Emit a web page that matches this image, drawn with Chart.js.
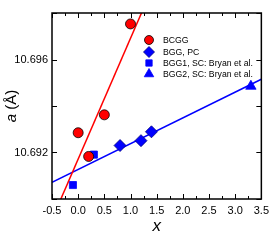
<!DOCTYPE html>
<html>
<head>
<meta charset="utf-8">
<script src="https://cdn.jsdelivr.net/npm/chart.js@4/dist/chart.umd.min.js"></script>
<style>
  html, body { margin: 0; padding: 0; background: #fff; }
  #wrap { width: 274px; height: 241px; position: relative; }
</style>
</head>
<body>
<div id="wrap"><canvas id="LatticeChart"></canvas></div>
<script>
// measured points
const bcggX = [0.0, 0.2, 0.5, 1.0];
const bcggY = [10.69285, 10.69183, 10.69362, 10.69753];
const bggPcX = [0.8, 1.2, 1.4];
const bggPcY = [10.6923, 10.69251, 10.69289];
const bgg1X = [-0.1, 0.3];
const bgg1Y = [10.6906, 10.69191];
const bgg2X = [3.3];
const bgg2Y = [10.69485];

// fit lines (end points)
const redFitX = [-0.5, 1.5];
const redFitY = [10.68912, 10.69951];
const blueFitX = [-0.5, 3.5];
const blueFitY = [10.69072, 10.69515];

const legendLabels = ["BCGG", "BGG, PC", "BGG1, SC: Bryan et al.", "BGG2, SC: Bryan et al."];

function toPoints(xs, ys) {
    let pts = [];
    for (let i = 0; i < xs.length; i++) {
        pts.push({ x: xs[i], y: ys[i] });
    }
    return pts;
}

const FONT = "'Liberation Sans', Arial, sans-serif";

// inward ticks on all four sides + frame
const frameTicks = {
    id: 'frameTicks',
    afterDraw(chart) {
        const ctx = chart.ctx;
        const a = chart.chartArea;
        const xs = chart.scales.x;
        const ys = chart.scales.y;
        ctx.save();
        ctx.strokeStyle = '#000';
        ctx.lineWidth = 1.5;
        ctx.strokeRect(a.left, a.top, a.right - a.left, a.bottom - a.top);
        ctx.lineWidth = 1;
        ctx.beginPath();
        xs.ticks.forEach(t => {
            let px = Math.round(xs.getPixelForValue(t.value)) + 0.5;
            let major = Math.abs(Math.round(t.value * 100) % 50) == 0;
            let len = major ? 5 : 3;
            ctx.moveTo(px, a.bottom); ctx.lineTo(px, a.bottom - len);
            ctx.moveTo(px, a.top); ctx.lineTo(px, a.top + len);
        });
        ys.ticks.forEach(t => {
            let py = Math.round(ys.getPixelForValue(t.value)) + 0.5;
            let len = 5;
            ctx.moveTo(a.left, py); ctx.lineTo(a.left + len, py);
            ctx.moveTo(a.right, py); ctx.lineTo(a.right - len, py);
        });
        ctx.stroke();

        // y axis title: italic a + (Å)
        ctx.translate(12, (a.top + a.bottom) / 2);
        ctx.rotate(-Math.PI / 2);
        ctx.fillStyle = '#000';
        ctx.textBaseline = 'middle';
        ctx.font = 'italic 15px ' + FONT;
        let w1 = ctx.measureText('a').width;
        ctx.font = '15px ' + FONT;
        let w2 = ctx.measureText(' (Å)').width;
        let start = -(w1 + w2) / 2;
        ctx.font = 'italic 15px ' + FONT;
        ctx.textAlign = 'left';
        ctx.fillText('a', start, 0);
        ctx.font = '15px ' + FONT;
        ctx.fillText(' (Å)', start + w1, 0);
        ctx.restore();

        // legend inside the plot
        const rows = [40, 52, 63, 74];
        const styles = ['circle', 'rectRot', 'rect', 'triangle'];
        const fills = ['#ff0000', '#0000ff', '#0000ff', '#0000ff'];
        const borders = ['#000', '#000080', '#0000ff', '#0000ff'];
        const radii = [4.5, 5.5, 4.5, 5.5];
        ctx.save();
        for (let i = 0; i < legendLabels.length; i++) {
            ctx.fillStyle = fills[i];
            ctx.strokeStyle = borders[i];
            ctx.lineWidth = 0.8;
            Chart.helpers.drawPoint(ctx, { pointStyle: styles[i], radius: radii[i], borderWidth: 0.8 }, 149, rows[i]);
            ctx.fillStyle = '#000';
            ctx.font = '8.7px ' + FONT;
            ctx.textAlign = 'left';
            ctx.textBaseline = 'middle';
            ctx.fillText(legendLabels[i], 163, rows[i] + 0.5);
        }
        ctx.restore();
    }
};

const config = {
    type: 'scatter',
    data: {
        datasets: [
            {
                label: 'red fit',
                data: toPoints(redFitX, redFitY),
                showLine: true,
                borderColor: '#ff0000',
                borderWidth: 1.5,
                pointRadius: 0,
                order: 5
            },
            {
                label: 'blue fit',
                data: toPoints(blueFitX, blueFitY),
                showLine: true,
                borderColor: '#0000ff',
                borderWidth: 1.5,
                pointRadius: 0,
                order: 5
            },
            {
                label: legendLabels[0],
                data: toPoints(bcggX, bcggY),
                pointStyle: 'circle',
                pointRadius: 5,
                backgroundColor: '#ff0000',
                borderColor: '#000',
                borderWidth: 0.8,
                order: 1
            },
            {
                label: legendLabels[1],
                data: toPoints(bggPcX, bggPcY),
                pointStyle: 'rectRot',
                pointRadius: 6,
                backgroundColor: '#0000ff',
                borderColor: '#000080',
                borderWidth: 0.8,
                order: 1
            },
            {
                label: legendLabels[2],
                data: toPoints(bgg1X, bgg1Y),
                pointStyle: 'rect',
                pointRadius: 5,
                backgroundColor: '#0000ff',
                borderColor: '#0000ff',
                borderWidth: 0.8,
                order: 1
            },
            {
                label: legendLabels[3],
                data: toPoints(bgg2X, bgg2Y),
                pointStyle: 'triangle',
                pointRadius: 6,
                backgroundColor: '#0000ff',
                borderColor: '#0000ff',
                borderWidth: 0.8,
                order: 1
            }
        ]
    },
    options: {
        responsive: true,
        maintainAspectRatio: false,
        animation: false,
        layout: { padding: { top: 13, right: 9, left: 0, bottom: 5 } },
        plugins: {
            legend: { display: false },
            tooltip: { enabled: false }
        },
        scales: {
            x: {
                type: 'linear',
                min: -0.5,
                max: 3.5,
                grid: { display: false, drawTicks: false },
                border: { display: false },
                ticks: {
                    stepSize: 0.25,
                    autoSkip: false,
                    maxRotation: 0,
                    padding: 5,
                    color: '#000',
                    font: { family: FONT, size: 11 },
                    callback: function (value) {
                        if (Math.abs(Math.round(value * 100) % 50) != 0) {
                            return '';
                        }
                        return value.toFixed(1);
                    }
                },
                title: {
                    display: true,
                    text: 'x',
                    color: '#000',
                    padding: { top: 0, bottom: 0 },
                    font: { family: FONT, size: 17, style: 'italic' }
                },
                afterFit: function (scale) { scale.height = 37; }
            },
            y: {
                type: 'linear',
                min: 10.690,
                max: 10.698,
                grid: { display: false, drawTicks: false },
                border: { display: false },
                ticks: {
                    stepSize: 0.002,
                    autoSkip: false,
                    padding: 4,
                    color: '#000',
                    font: { family: FONT, size: 11 },
                    callback: function (value) {
                        let m = Math.round(value * 1000);
                        if (m % 4 != 0) {
                            return '';
                        }
                        return (m / 1000).toFixed(3);
                    }
                },
                afterFit: function (scale) { scale.width = 52; }
            }
        }
    },
    plugins: [frameTicks]
};

new Chart(document.getElementById("LatticeChart"), config);
</script>
</body>
</html>
